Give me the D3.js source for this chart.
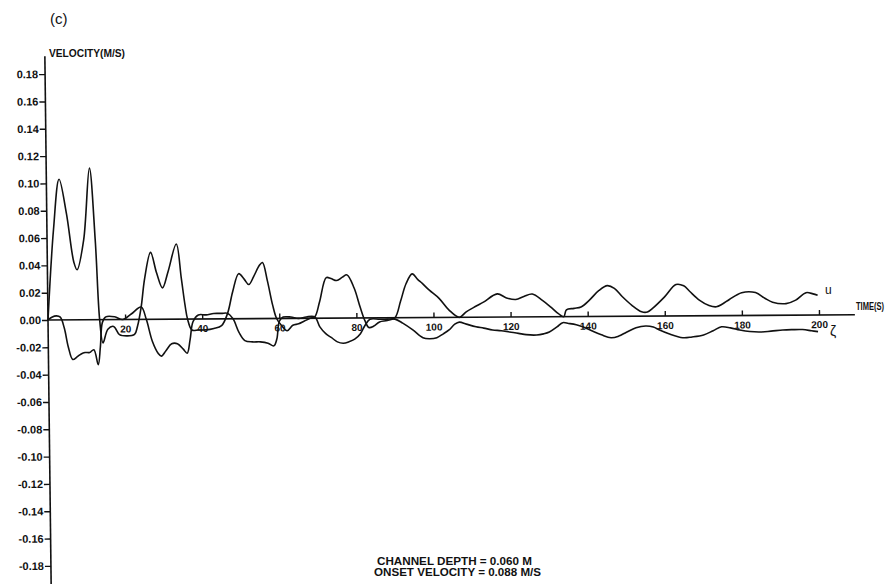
<!DOCTYPE html>
<html>
<head>
<meta charset="utf-8">
<script src="https://cdn.jsdelivr.net/npm/d3@7"></script>
<style>
    html, body { margin: 0; padding: 0; background: #fff; }
    svg { display: block; }
    text { font-family: "Liberation Sans", Arial, sans-serif; fill: #111; }
</style>
</head>
<body>
<div id="chart"></div>
<script>
// velocity trace u (m/s) vs time (s)
const uTime = [0, 1.7, 3.3, 5.1, 6.9, 7.7, 9.5, 11.2, 12.5, 13.4, 14.2, 15.5, 17, 18.5, 20.4, 22.4, 23.2,
    24.2, 25.2, 26.8, 28.3, 29.8, 31.3, 33.5, 34.7, 35.6, 36.2, 37.3, 39, 41, 43, 45, 46.6,
    48, 49.6, 51, 52.2, 53.5, 55, 55.8, 57, 58.3, 59.3, 60.5, 62, 63.5, 65, 66.5, 68, 69.2,
    70.5, 72.3, 73.5, 75, 76.5, 77.7, 79.5, 81, 82.2, 83.2, 84.5, 86, 88, 90,
    91.5, 93, 94.6, 96, 97.2, 99, 101.5, 104, 106.7, 108.5, 111, 113, 116.6, 119, 121.4, 123.5,
    125.7, 128.3, 130.5, 132.5, 133.8, 134.5, 136.5, 138.3, 140.5, 143, 145.2, 147, 149, 151.5,
    154, 155.5, 157, 160, 163, 165, 166.5, 169, 171.5, 173.4, 175, 176.8, 180, 183.6, 186, 188,
    191.5, 194, 196.7, 198.5, 199.7];
const uVel = [0, 0.066, 0.103, 0.078, 0.042, 0.0366, 0.0585, 0.111, 0.058, 0, -0.017, -0.007, -0.005, -0.011, -0.012, -0.011, -0.005,
    0.009, 0.03, 0.049, 0.034, 0.023, 0.035, 0.055, 0.03, 0.01, 0, -0.008, -0.008, -0.008, -0.007, -0.005, 0.004,
    0.02, 0.033, 0.029, 0.025, 0.031, 0.039, 0.041, 0.028, 0.01, 0, -0.005, -0.009, -0.005, -0.004, -0.002, 0, 0.001,
    0.012, 0.0297, 0.029, 0.0275, 0.030, 0.0316, 0.022, 0.008, -0.002, -0.007, -0.006, -0.003, -0.002, 0,
    0.012, 0.025, 0.032, 0.028, 0.025, 0.020, 0.014, 0.0055, 0, 0.004, 0.008, 0.011, 0.017, 0.014, 0.0128, 0.015,
    0.0167, 0.012, 0.007, 0.002, 0, 0.005, 0.006, 0.007, 0.012, 0.019, 0.0225, 0.0205, 0.0145, 0.008,
    0.0032, 0.003, 0.006, 0.014, 0.023, 0.022, 0.018, 0.0115, 0.0075, 0.0065, 0.0085, 0.0118, 0.0167, 0.0167, 0.0125, 0.0096,
    0.0085, 0.011, 0.0164, 0.0155, 0.0144];

// second trace (zeta)
const zTime = [0, 1, 2.2, 3.2, 4.2, 5.2, 6.3, 7.5, 8.5, 9.5, 10.7, 11.8, 12.9, 13.5, 14.1, 15, 17.3, 19.4, 21.6,
    24.2, 25.5, 27, 28.5, 29.3, 30.5, 32, 33.5, 35, 36, 36.8, 37.6, 39, 41, 43, 45, 46.6,
    48, 49.5, 51, 53, 55, 57, 58.5, 59.3, 60, 61, 63, 65, 67, 69.2,
    70.5, 72, 73.5, 75, 76.5, 78, 79.5, 81, 82.2, 83.5, 86, 88, 90,
    92, 94.6, 97.2, 99, 100.8, 102.5, 104, 105.5, 106.7, 108.5, 111, 113, 115.3, 117.5, 119.7, 122, 124,
    126.7, 128.5, 130, 132, 133.5, 135, 137, 138.7, 141, 143.5, 146, 148, 150, 152.5,
    155, 157, 158.6, 161, 164.6, 167, 170, 172.5, 174.7, 177, 179.4, 182, 184.6, 187.5,
    190.6, 193, 195.7, 198, 199.7];
const zVel = [0, 0.002, 0.003, 0.002, -0.006, -0.02, -0.029, -0.027, -0.025, -0.024, -0.024, -0.022, -0.033, -0.02, -0.002, 0.002, 0.002, 0, 0.004,
    0.009, 0, -0.016, -0.025, -0.027, -0.023, -0.018, -0.018, -0.022, -0.025, -0.015, -0.002, 0.003, 0.003, 0.004, 0.004, 0.004,
    0, -0.01, -0.016, -0.017, -0.017, -0.018, -0.02, -0.015, -0.002, 0.001, 0.001, 0, 0.001, 0.001,
    -0.0063, -0.0113, -0.0143, -0.0174, -0.0184, -0.0174, -0.0155, -0.0115, -0.0055, -0.001, -0.001, -0.001, -0.001,
    -0.004, -0.009, -0.0148, -0.0155, -0.0148, -0.012, -0.0092, -0.005, -0.0035, -0.005, -0.007, -0.008, -0.0094, -0.010, -0.011, -0.012, -0.013,
    -0.0133, -0.0125, -0.0112, -0.0075, -0.0044, -0.005, -0.006, -0.0075, -0.0105, -0.0135, -0.0157, -0.0145, -0.0117, -0.0085,
    -0.0072, -0.008, -0.0102, -0.013, -0.016, -0.0155, -0.0141, -0.011, -0.0082, -0.009, -0.0106, -0.0118, -0.0122, -0.0116,
    -0.0108, -0.0106, -0.0106, -0.0115, -0.0122];

const yTicks = [0.18, 0.16, 0.14, 0.12, 0.10, 0.08, 0.06, 0.04, 0.02, 0.00,
    -0.02, -0.04, -0.06, -0.08, -0.10, -0.12, -0.14, -0.16, -0.18];
const xTicks = [20, 40, 60, 80, 100, 120, 140, 160, 180, 200];

const notes = ["CHANNEL DEPTH = 0.060 M", "ONSET VELOCITY = 0.088 M/S"];

class VelocityTrace {
    constructor() {
        this.width = 896;
        this.height = 584;
        this.ox = 48;        // where t=0, v=0 sits on the page
        this.oy = 320;
        this.svg = null;
        this.g = null;
    }

    init() {
        this.svg = d3.select('#chart').append('svg')
            .attr('width', this.width)
            .attr('height', this.height);

        // the scan is slightly skewed, so the plot frame gets a small shear
        this.g = this.svg.append('g')
            .attr('transform', `translate(${this.ox},${this.oy}) matrix(1,-0.0065,0.0119,1,0,0)`);

        this.x = d3.scaleLinear().domain([0, 200]).range([0, 771]);
        this.y = d3.scaleLinear().domain([-0.2, 0.2]).range([273.2, -273.2]);

        this.drawAxes();
        this.drawLines();
        this.drawLabels();
    }

    drawAxes() {
        const fmt = v => d3.format('.2f')(v).replace('\u2212', '-');

        const yAxis = this.g.append('g')
            .call(d3.axisLeft(this.y).tickValues(yTicks).tickSize(6).tickPadding(1).tickFormat(fmt));
        yAxis.select('.domain').remove();
        yAxis.selectAll('line').attr('stroke', '#111').attr('stroke-width', 1.4);
        yAxis.selectAll('text')
            .attr('font-size', 11).attr('font-weight', 'bold')
            .style('font-family', '"Liberation Sans", Arial, sans-serif').attr('fill', '#111');

        this.g.append('line')
            .attr('x1', 0).attr('x2', 0)
            .attr('y1', this.y(0.193)).attr('y2', this.y(-0.2))
            .attr('stroke', '#111').attr('stroke-width', 1.6);

        const xAxis = this.g.append('g')
            .call(d3.axisBottom(this.x).tickValues(xTicks).tickSize(-5).tickPadding(6).tickFormat(d3.format('d')));
        xAxis.select('.domain').remove();
        xAxis.selectAll('line').attr('stroke', '#111').attr('stroke-width', 1.4);
        xAxis.selectAll('text')
            .attr('font-size', 10).attr('font-weight', 'bold')
            .style('font-family', '"Liberation Sans", Arial, sans-serif').attr('fill', '#111');

        this.g.append('line')
            .attr('x1', 0).attr('x2', this.x(209.3))
            .attr('y1', this.y(0)).attr('y2', this.y(0))
            .attr('stroke', '#111').attr('stroke-width', 1.6);
    }

    drawLines() {
        const line = d3.line()
            .x(d => this.x(d[0]))
            .y(d => this.y(d[1]))
            .curve(d3.curveCatmullRom.alpha(0.5));

        const series = [
            d3.zip(uTime, uVel),
            d3.zip(zTime, zVel)
        ];

        this.g.selectAll('path.trace')
            .data(series)
            .join('path')
            .attr('class', 'trace')
            .attr('d', line)
            .attr('fill', 'none')
            .attr('stroke', '#111')
            .attr('stroke-width', 1.6)
            .attr('stroke-linejoin', 'round');
    }

    drawLabels() {
        const s = this.svg;

        s.append('text').attr('x', 50).attr('y', 24)
            .attr('font-size', 15).text('(c)');

        s.append('text').attr('x', 49).attr('y', 57)
            .attr('font-size', 10).attr('font-weight', 'bold')
            .attr('textLength', 76).attr('lengthAdjust', 'spacingAndGlyphs')
            .text('VELOCITY(M/S)');

        s.append('text').attr('x', 856).attr('y', 310)
            .attr('font-size', 10).attr('font-weight', 'bold')
            .attr('textLength', 28).attr('lengthAdjust', 'spacingAndGlyphs')
            .text('TIME(S)');

        // hand written curve names
        s.append('text').attr('x', 825).attr('y', 294)
            .attr('font-size', 12).text('u');
        s.append('text').attr('x', 830).attr('y', 336)
            .attr('font-size', 14).text('ζ');

        s.selectAll('text.note')
            .data(notes)
            .join('text')
            .attr('class', 'note')
            .attr('x', (d, i) => i === 0 ? 377 : 374)
            .attr('y', (d, i) => 565 + i * 11)
            .attr('font-size', 10).attr('font-weight', 'bold')
            .attr('textLength', (d, i) => i === 0 ? 155 : 167)
            .attr('lengthAdjust', 'spacingAndGlyphs')
            .text(d => d);
    }
}

const chart = new VelocityTrace();
chart.init();
</script>
</body>
</html>
